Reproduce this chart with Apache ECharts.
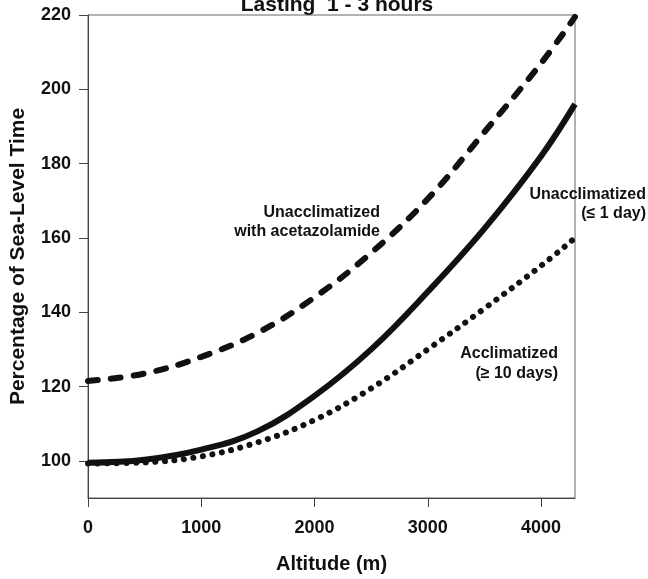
<!DOCTYPE html>
<html>
<head>
<meta charset="utf-8">
<script src="https://cdn.jsdelivr.net/npm/echarts@6/dist/echarts.min.js"></script>
<style>
  html, body { margin: 0; padding: 0; background: #fff; }
  #chart { width: 648px; height: 579px; }
</style>
</head>
<body>
<div id="chart"></div>
<script>
// values
const altitude = [0, 500, 1000, 1500, 2000, 2500, 3000, 3500, 4000, 4300];
const withAcetazolamide = [121.5, 123.5, 128, 134.5, 144, 156, 170.5, 188.5, 207, 219.5];
const unacclimatized = [99.5, 100.3, 103, 108, 117.5, 130, 145.5, 162.5, 182, 196];
const acclimatized = [99.3, 99.6, 101.2, 105, 111, 119.5, 130, 141, 152.5, 160];
const xTicks = [0, 1000, 2000, 3000, 4000];
const yTicks = [100, 120, 140, 160, 180, 200, 220];

const font = '"Liberation Sans", Arial, Helvetica, sans-serif';
const ink = '#111';

const pairs = ys => altitude.map((x, i) => [x, ys[i]]);

const chart = echarts.init(document.getElementById('chart'));

const option = {
  animation: false,
  backgroundColor: '#fff',
  textStyle: { fontFamily: font },
  grid: {
    left: 87,
    right: 73,
    top: 15,
    bottom: 78,
    show: true,
    borderColor: '#666',
    borderWidth: 1
  },
  xAxis: {
    type: 'value',
    min: 0,
    max: 4300,
    name: 'Altitude (m)',
    nameLocation: 'middle',
    nameGap: 56,
    nameTextStyle: { color: ink, fontSize: 20, fontWeight: 'bold', fontFamily: font },
    axisLine: { show: true, lineStyle: { color: '#444', width: 1 } },
    axisTick: { show: true, length: 9, customValues: xTicks, lineStyle: { color: '#444' } },
    axisLabel: {
      customValues: xTicks,
      formatter: v => String(v),
      margin: 21, color: ink, fontSize: 18, fontWeight: 'bold', fontFamily: font
    },
    splitLine: { show: false }
  },
  yAxis: {
    type: 'value',
    min: 90,
    max: 220,
    name: 'Percentage of Sea-Level Time',
    nameLocation: 'middle',
    nameGap: 59,
    nameTextStyle: { color: ink, fontSize: 21, fontWeight: 'bold', fontFamily: font },
    axisLine: { show: true, lineStyle: { color: '#444', width: 1 } },
    axisTick: { show: true, length: 9, customValues: yTicks, lineStyle: { color: '#444' } },
    axisLabel: { customValues: yTicks, margin: 17, color: ink, fontSize: 18, fontWeight: 'bold', fontFamily: font },
    splitLine: { show: false }
  },
  graphic: [
    {
      type: 'text', x: 337, y: -5,
      style: { text: 'Lasting  1 - 3 hours', fill: ink, font: 'bold 21px ' + font, align: 'center' }
    },
    {
      type: 'text', x: 380, y: 203,
      style: { text: 'Unacclimatized\nwith acetazolamide', fill: ink, font: 'bold 16px ' + font, align: 'right', lineHeight: 19 }
    },
    {
      type: 'text', x: 646, y: 185,
      style: { text: 'Unacclimatized\n(\u2264 1 day)', fill: ink, font: 'bold 16px ' + font, align: 'right', lineHeight: 19 }
    },
    {
      type: 'text', x: 558, y: 344,
      style: { text: 'Acclimatized\n(\u2265 10 days)', fill: ink, font: 'bold 16px ' + font, align: 'right', lineHeight: 20 }
    }
  ],
  series: [
    {
      name: 'Unacclimatized with acetazolamide',
      type: 'line',
      smooth: 0.4,
      showSymbol: false,
      data: pairs(withAcetazolamide),
      lineStyle: { color: ink, width: 6, type: [10, 13], cap: 'round' }
    },
    {
      name: 'Unacclimatized',
      type: 'line',
      smooth: 0.4,
      showSymbol: false,
      data: pairs(unacclimatized),
      lineStyle: { color: ink, width: 6, type: 'solid' }
    },
    {
      name: 'Acclimatized',
      type: 'line',
      smooth: 0.4,
      showSymbol: false,
      data: pairs(acclimatized),
      lineStyle: { color: ink, width: 6, type: [0.1, 9.5], cap: 'round' }
    }
  ]
};

chart.setOption(option);
</script>
</body>
</html>
